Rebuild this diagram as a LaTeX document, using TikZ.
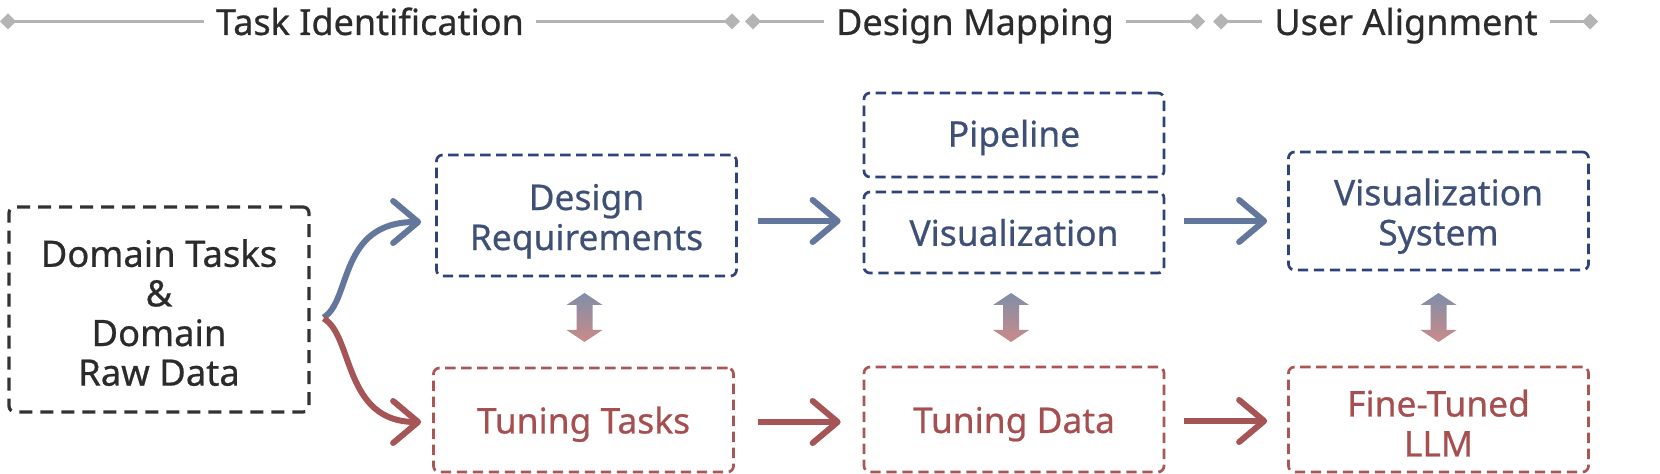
\documentclass[tikz,border=0pt]{standalone}
\usepackage{fontspec}
\setmainfont{Noto Sans}[FakeBold=0.6]
\usetikzlibrary{arrows.meta,calc}
\definecolor{navytxt}{HTML}{3E5075}
\definecolor{navyln}{HTML}{30427A}
\definecolor{bluearr}{HTML}{63769B}
\definecolor{redtxt}{HTML}{A54F50}
\definecolor{redln}{HTML}{AA5656}
\definecolor{redarr}{HTML}{A55555}
\definecolor{darktxt}{HTML}{2B2B2B}
\definecolor{darkln}{HTML}{333333}
\definecolor{hgray}{HTML}{B4B4B4}
\definecolor{gtop}{HTML}{7F8FA8}
\definecolor{gbot}{HTML}{CB8A8A}
\newcommand{\tstrut}[1]{\rule{0pt}{#1}}
\begin{document}
\begin{tikzpicture}[x=0.5pt,y=-0.5pt,
  boxbase/.style={line width=1.35pt, dash pattern=on 5.2pt off 2.8pt, rounded corners=3pt,
    align=center, inner sep=0pt, minimum width=150pt,
    font=\fontsize{17.7}{20}\selectfont},
  bluebox/.style={boxbase, draw=navyln, text=navytxt},
  redbox/.style={boxbase, draw=redln, text=redtxt},
  darkbox/.style={boxbase, draw=darkln, text=darktxt, line width=1.6pt,
    dash pattern=on 6.5pt off 4pt, font=\fontsize{18.2}{19.8}\selectfont},
  hdr/.style={text=darktxt, font=\fontsize{18}{20}\selectfont, anchor=base, inner xsep=6pt, inner ysep=0pt},
  hline/.style={draw=hgray, line width=1.35pt},
  tipbarb/.tip={Straight Barb[length=12.5pt,width=21pt,line cap=round,line join=round]},
  barrow/.style={draw=bluearr, line width=3pt, -tipbarb},
  rarrow/.style={draw=redarr, line width=3pt, -tipbarb},
  dblarr/.pic={\shade[top color=gtop, bottom color=gbot]
    (0,-24.5) -- (18,-12.5) -- (8,-12.5) -- (8,12.5) -- (18,12.5) -- (0,24.5)
    -- (-18,12.5) -- (-8,12.5) -- (-8,-12.5) -- (-18,-12.5) -- cycle;}
]
\useasboundingbox (0,0) rectangle (1660,474);

% header
\coordinate (h1) at (8,21.5);
\coordinate (h2) at (732,21.5);
\coordinate (h3) at (753,21.5);
\coordinate (h4) at (1197,21.5);
\coordinate (h5) at (1221,21.5);
\coordinate (h6) at (1590,21.5);
\node[hdr] (t1) at (370,35) {Task Identification};
\node[hdr] (t2) at (975,35) {Design Mapping};
\node[hdr] (t3) at (1406,35) {User Alignment};
\draw[hline] (h1) -- (t1.west |- h1);
\draw[hline] (t1.east |- h2) -- (h2);
\draw[hline] (h3) -- (t2.west |- h3);
\draw[hline] (t2.east |- h4) -- (h4);
\draw[hline] (h5) -- (t3.west |- h5);
\draw[hline] (t3.east |- h6) -- (h6);
\foreach \c in {h1,h2,h3,h4,h5,h6}
  \fill[hgray] (\c) +(-8,0) -- +(0,-8) -- +(8,0) -- +(0,8) -- cycle;

% boxes
\node[darkbox, minimum width=150pt, minimum height=102.5pt] (dom) at (159,309.5)
  {\tstrut{0.93em}Domain Tasks\\\&\\Domain\\Raw Data};
\node[bluebox, minimum height=60.5pt] (dr) at (586.5,215.5) {\tstrut{1.06em}Design\\Requirements};
\node[redbox, minimum height=52pt] (tt) at (583.5,420) {\tstrut{1.0em}Tuning Tasks};
\node[bluebox, minimum height=42pt] (pipe) at (1014,135) {\tstrut{0.9em}Pipeline};
\node[bluebox, minimum height=40.5pt] (vis) at (1014,232.5) {Visualization};
\node[redbox, minimum height=52.5pt] (td) at (1014,419.5) {\tstrut{1.0em}Tuning Data};
\node[bluebox, minimum height=59pt] (vs) at (1438.5,211) {\tstrut{1.05em}Visualization\\System};
\node[redbox, minimum height=52.5pt] (llm) at (1438.5,419.5) {\tstrut{0.96em}Fine-Tuned\\LLM};

% curved connectors from domain box
\draw[barrow] ($(dom.east)+(13,8)$) .. controls +(28,-17) and +(-83,0) .. ($(dr.west |- 0,222)+(-14,0)$);
\draw[rarrow] ($(dom.east)+(13,9)$) .. controls +(30,17) and +(-78,0) .. ($(tt.west |- 0,422)+(-11,0)$);

% horizontal connectors
\draw[barrow] ($(dr.east |- 0,221)+(20,0)$) -- ($(vis.west |- 0,221)+(-22,0)$);
\draw[barrow] ($(vis.east |- 0,221)+(19,0)$) -- ($(vs.west |- 0,221)+(-20,0)$);
\draw[rarrow] ($(tt.east |- 0,422)+(23,0)$) -- ($(td.west |- 0,422)+(-22,0)$);
\draw[rarrow] ($(td.east |- 0,421)+(19,0)$) -- ($(llm.west |- 0,421)+(-20,0)$);

% gradient double arrows
\pic at ($(dr.south |- 0,317.5)+(-2,0)$) {dblarr};
\pic at ($(vis.south |- 0,317.5)+(-3,0)$) {dblarr};
\pic at (vs.south |- 0,317.5) {dblarr};
\end{tikzpicture}
\end{document}
